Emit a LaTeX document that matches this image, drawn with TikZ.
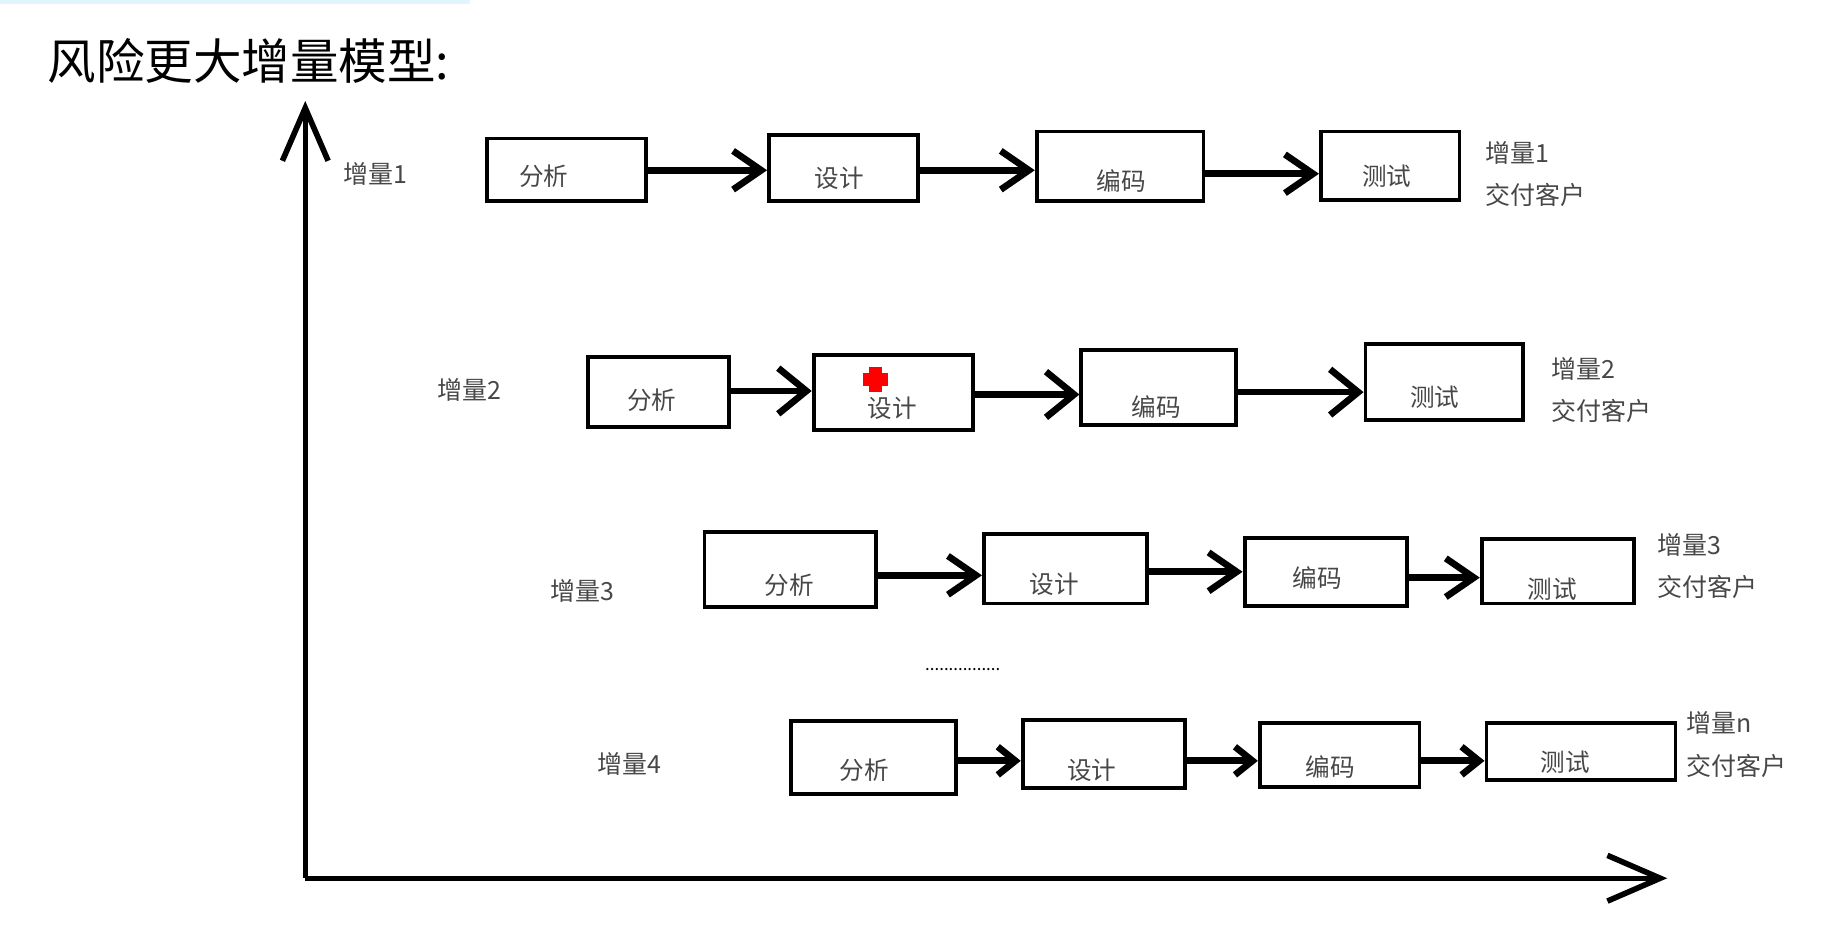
\documentclass[tikz,border=0pt]{standalone}
\usepackage{fontspec}
\setmainfont{Noto Sans CJK SC}
\usetikzlibrary{arrows.meta,fit}
\begin{document}
\begin{tikzpicture}[x=0.011741cm,y=-0.011741cm,
  bx/.style={draw=black, line width=1.1pt, inner sep=0pt},
  lbl/.style={font=\fontsize{7.1}{8}\selectfont, text=black!72, inner sep=0pt},
  txt/.style={font=\fontsize{7}{8}\selectfont, text=black!72, inner sep=0pt},
  flowA/.style={line width=1.9pt, -{Straight Barb[length=8pt,width=11pt,line width=1.9pt]}},
  flowB/.style={line width=1.9pt, -{Straight Barb[length=8pt,width=13pt,line width=1.9pt]}},
  flowD/.style={line width=1.9pt, -{Straight Barb[length=5pt,width=8pt,line width=1.9pt]}},
  axis/.style={line width=1.5pt, -{Straight Barb[length=15pt,width=13pt,line width=1.6pt]}}
]
\useasboundingbox (0,0) rectangle (1568,796);
\fill[cyan!12] (0,0) rectangle (400,3);

% title
\node[anchor=west, font=\fontsize{13.8}{16}\selectfont, inner sep=0pt] (title) at (40,52) {风险更大增量模型:};

% axes
\coordinate (O) at (260,748);
\coordinate (Y) at (260,86);
\coordinate (X) at (1420,748);
\draw[axis] (O) -- (Y);
\draw[axis] (O) -- (X);

% row 1
\node[lbl] (r1) at (320,148) {增量1};
\node[bx, fit={(415,118) (550,171)}] (a1) {};
\node[bx, fit={(655,115) (782,171)}] (b1) {};
\node[bx, fit={(883,112) (1025,171)}] (c1) {};
\node[bx, fit={(1125,112) (1243,170)}] (d1) {};
\node[txt] (ta1) at (463,150) {分析};
\node[txt] (tb1) at (715,152) {设计};
\node[txt] (tc1) at (955,154) {编码};
\node[txt] (td1) at (1181,150) {测试};
\node[lbl, anchor=west] (e1) at (1265,130) {增量1};
\node[lbl, anchor=west] (f1) at (1265,166) {交付客户};
\draw[flowA] (a1.east |- 0,145) -- (b1.west |- 0,145);
\draw[flowA] (b1.east |- 0,145) -- (c1.west |- 0,145);
\draw[flowA] (c1.east |- 0,148) -- (d1.west |- 0,148);

% row 2
\node[lbl] (r2) at (400,332) {增量2};
\node[bx, fit={(501,304) (621,364)}] (a2) {};
\node[bx, fit={(693,302) (829,366)}] (b2) {};
\node[bx, fit={(921,298) (1053,362)}] (c2) {};
\node[bx, fit={(1163,293) (1297,358)}] (d2) {};
\node[txt] (ta2) at (555,341) {分析};
\node[txt] (tb2) at (760,348) {设计};
\node[txt] (tc2) at (985,347) {编码};
\node[txt] (td2) at (1222,338) {测试};
\node[lbl, anchor=west] (e2) at (1321,314) {增量2};
\node[lbl, anchor=west] (f2) at (1321,350) {交付客户};
\draw[flowB] (a2.east |- 0,333) -- (b2.west |- 0,333);
\draw[flowB] (b2.east |- 0,336) -- (c2.west |- 0,336);
\draw[flowB] (c2.east |- 0,334) -- (d2.west |- 0,334);
% red mark
\fill[red] (740,313) rectangle (751,334);
\fill[red] (735,318) rectangle (756,329);

% row 3
\node[lbl] (r3) at (496,503) {增量3};
\node[bx, fit={(600,453) (746,517)}] (a3) {};
\node[bx, fit={(838,455) (977,514)}] (b3) {};
\node[bx, fit={(1060,458) (1198,516)}] (c3) {};
\node[bx, fit={(1262,459) (1392,514)}] (d3) {};
\node[txt] (ta3) at (672,498) {分析};
\node[txt] (tb3) at (898,498) {设计};
\node[txt] (tc3) at (1122,492) {编码};
\node[txt] (td3) at (1322,502) {测试};
\node[lbl, anchor=west] (e3) at (1411,464) {增量3};
\node[lbl, anchor=west] (f3) at (1411,500) {交付客户};
\draw[flowA] (a3.east |- 0,490) -- (b3.west |- 0,490);
\draw[flowA] (b3.east |- 0,487) -- (c3.west |- 0,487);
\draw[flowA] (c3.east |- 0,492) -- (d3.west |- 0,492);

\node[font=\fontsize{4.8}{5}\selectfont, inner sep=0pt] (dots) at (820,570) {................};

% row 4
\node[lbl] (r4) at (536,651) {增量4};
\node[bx, fit={(674,614) (814,676)}] (a4) {};
\node[bx, fit={(871,613) (1009,671)}] (b4) {};
\node[bx, fit={(1073,616) (1209,670)}] (c4) {};
\node[bx, fit={(1266,616) (1427,664)}] (d4) {};
\node[txt] (ta4) at (736,656) {分析};
\node[txt] (tb4) at (930,656) {设计};
\node[txt] (tc4) at (1133,653) {编码};
\node[txt] (td4) at (1333,649) {测试};
\node[lbl, anchor=west] (e4) at (1436,616) {增量n};
\node[lbl, anchor=west] (f4) at (1436,652) {交付客户};
\draw[flowD] (a4.east |- 0,648) -- (b4.west |- 0,648);
\draw[flowD] (b4.east |- 0,648) -- (c4.west |- 0,648);
\draw[flowD] (c4.east |- 0,648) -- (d4.west |- 0,648);
\end{tikzpicture}
\end{document}
